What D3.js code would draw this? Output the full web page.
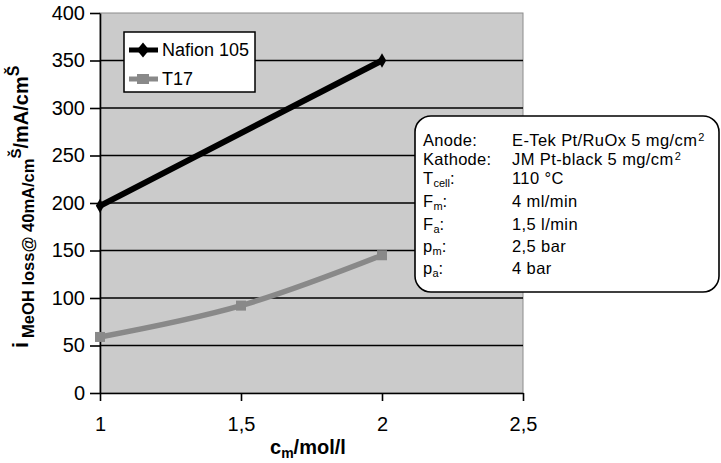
<!DOCTYPE html>
<html>
<head>
<meta charset="utf-8">
<script src="https://cdn.jsdelivr.net/npm/d3@7"></script>
<style>
  html, body { margin: 0; padding: 0; background: #fff; }
  svg { display: block; font-family: "Liberation Sans", Arial, sans-serif; }
</style>
</head>
<body>
<svg id="chart" width="721" height="463"></svg>
<script>
// Methanol crossover current vs. methanol concentration
const nafionConc = [1, 2];
const nafionValues = [197, 350];
const t17Conc = [1, 1.5, 2];
const t17Values = [59, 92, 145];
const xTickValues = [1, 1.5, 2, 2.5];
const yTickValues = [0, 50, 100, 150, 200, 250, 300, 350, 400];
const seriesNames = ["Nafion 105", "T17"];
const seriesColors = ["#000000", "#898989"];

// operating conditions: [label, subscript, value, superscript]
const conditions = [
  ["Anode:", "", "E-Tek Pt/RuOx 5 mg/cm", "2"],
  ["Kathode:", "", "JM Pt-black 5 mg/cm", "2"],
  ["T", "cell", "110 °C", ""],
  ["F", "m", "4 ml/min", ""],
  ["F", "a", "1,5 l/min", ""],
  ["p", "m", "2,5 bar", ""],
  ["p", "a", "4 bar", ""]
];
const conditionBaselines = [146, 165, 184, 207, 230, 252, 274];

const svg = d3.select("#chart");
const x = d3.scaleLinear().domain([1, 2.5]).range([100, 523]);
const y = d3.scaleLinear().domain([0, 400]).range([393, 13]);
const fmt = d => String(d).replace(".", ",");

// plot area
svg.append("rect")
  .attr("x", x(1)).attr("y", y(400))
  .attr("width", x(2.5) - x(1)).attr("height", y(0) - y(400))
  .attr("fill", "#cbcbcb").attr("stroke", "#8c8c8c").attr("stroke-width", 1);

// gridlines
svg.append("g").selectAll("line")
  .data(yTickValues.filter(v => v > 0 && v < 400))
  .join("line")
  .attr("x1", x(1)).attr("x2", x(2.5))
  .attr("y1", d => y(d)).attr("y2", d => y(d))
  .attr("stroke", "#000").attr("stroke-width", 1.6);

// axes
const yAxis = svg.append("g")
  .attr("transform", `translate(${x(1)},0)`)
  .call(d3.axisLeft(y).tickValues(yTickValues).tickSize(10).tickPadding(5).tickSizeOuter(0));
const xAxis = svg.append("g")
  .attr("transform", `translate(0,${y(0)})`)
  .call(d3.axisBottom(x).tickValues(xTickValues).tickFormat(fmt).tickSize(8).tickPadding(16).tickSizeOuter(0));
[yAxis, xAxis].forEach(g => {
  g.select(".domain").attr("stroke", "#000").attr("stroke-width", 1.6);
  g.selectAll(".tick line").attr("stroke", "#000").attr("stroke-width", 1.6);
  g.selectAll(".tick text").attr("font-size", 20).attr("fill", "#000")
    .attr("font-family", "Liberation Sans, Arial, sans-serif");
});

// series
const nafion = nafionConc.map((c, i) => [c, nafionValues[i]]);
const t17 = t17Conc.map((c, i) => [c, t17Values[i]]);

svg.append("path")
  .datum(t17)
  .attr("d", d3.line().x(d => x(d[0])).y(d => y(d[1])).curve(d3.curveCatmullRom))
  .attr("fill", "none").attr("stroke", seriesColors[1]).attr("stroke-width", 5.5);
svg.append("g").selectAll("rect")
  .data(t17).join("rect")
  .attr("x", d => x(d[0]) - 5).attr("y", d => y(d[1]) - 5)
  .attr("width", 10).attr("height", 10).attr("fill", seriesColors[1]);

svg.append("path")
  .datum(nafion)
  .attr("d", d3.line().x(d => x(d[0])).y(d => y(d[1])))
  .attr("fill", "none").attr("stroke", seriesColors[0]).attr("stroke-width", 6);
svg.append("g").selectAll("path")
  .data(nafion).join("path")
  .attr("d", d3.symbol(d3.symbolDiamond, 60))
  .attr("transform", d => `translate(${x(d[0])},${y(d[1])})`)
  .attr("fill", seriesColors[0]);

// legend
const legend = svg.append("g");
legend.append("rect")
  .attr("x", 124).attr("y", 32).attr("width", 131).attr("height", 60)
  .attr("fill", "#fff").attr("stroke", "#000").attr("stroke-width", 1.5);
seriesNames.forEach((name, i) => {
  const cy = 50 + i * 29;
  legend.append("line")
    .attr("x1", 129).attr("x2", 158).attr("y1", cy).attr("y2", cy)
    .attr("stroke", seriesColors[i]).attr("stroke-width", 5);
  if (i === 0) {
    legend.append("path").attr("d", d3.symbol(d3.symbolDiamond, 80))
      .attr("transform", `translate(143,${cy}) scale(1.3,0.9)`).attr("fill", seriesColors[i]);
  } else {
    legend.append("rect").attr("x", 137).attr("y", cy - 5).attr("width", 12).attr("height", 10)
      .attr("fill", seriesColors[i]);
  }
  legend.append("text")
    .attr("x", 162).attr("y", cy + 6)
    .attr("font-size", 18).attr("fill", "#000")
    .text(name);
});

// conditions box
const box = svg.append("g");
box.append("rect")
  .attr("x", 415).attr("y", 116).attr("width", 304).attr("height", 176)
  .attr("rx", 16).attr("ry", 16)
  .attr("fill", "#fff").attr("stroke", "#000").attr("stroke-width", 1.6);
conditions.forEach((row, i) => {
  const by = conditionBaselines[i];
  const lab = box.append("text").attr("x", 423).attr("y", by)
    .attr("font-size", 16.5).attr("letter-spacing", 0.3).attr("fill", "#000");
  lab.append("tspan").text(row[0]);
  if (row[1]) {
    lab.append("tspan").attr("font-size", 11).attr("letter-spacing", 0).attr("dy", 3).text(row[1]);
    lab.append("tspan").attr("dy", -3).text(":");
  }
  const val = box.append("text").attr("x", 512).attr("y", by)
    .attr("font-size", 16.5).attr("letter-spacing", 0.4).attr("fill", "#000");
  val.append("tspan").text(row[2]);
  if (row[3]) {
    val.append("tspan").attr("font-size", 11).attr("dx", 1).attr("dy", -5).text(row[3]);
  }
});

// y axis title
const yTitle = svg.append("text")
  .attr("transform", "translate(28,348) rotate(-90)")
  .attr("font-weight", "bold").attr("fill", "#000");
yTitle.append("tspan").attr("font-size", 22).text("i");
yTitle.append("tspan").attr("font-size", 16.5).attr("dx", 4).attr("dy", 6).text("MeOH loss@ 40mA/cm");
yTitle.append("tspan").attr("font-size", 15).attr("dy", -13).text("Š");
yTitle.append("tspan").attr("font-size", 20).attr("dy", 7).text("/mA/cm");
yTitle.append("tspan").attr("font-size", 16).attr("dy", -9).text("Š");

// x axis title
const xTitle = svg.append("text")
  .attr("x", 270).attr("y", 454)
  .attr("font-weight", "bold").attr("font-size", 20).attr("fill", "#000");
xTitle.append("tspan").text("c");
xTitle.append("tspan").attr("font-size", 14).attr("dy", 4).text("m");
xTitle.append("tspan").attr("dy", -4).text("/mol/l");
</script>
</body>
</html>
